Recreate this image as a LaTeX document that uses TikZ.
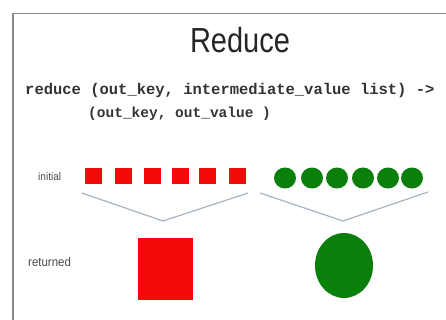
\documentclass[tikz,border=0pt]{standalone}
\usepackage{fontspec}
\setmainfont{Liberation Sans}
\newfontfamily\codefont{Liberation Mono}
\definecolor{redfill}{HTML}{F50A0A}
\definecolor{greenfill}{HTML}{0A7F0A}
\definecolor{framegray}{HTML}{8A8A8A}
\definecolor{vline}{HTML}{A8B4C0}
\tikzset{
  frame/.style={draw=framegray, line width=1.6pt},
  smallsq/.style={fill=redfill, draw=none, minimum width=17pt, minimum height=16pt, inner sep=0pt},
  smallci/.style={fill=greenfill, draw=none, ellipse, minimum width=22pt, minimum height=21pt, inner sep=0pt},
  vstroke/.style={draw=vline, line width=1.2pt},
  codetext/.style={font=\codefont\bfseries\fontsize{15.5}{17}\selectfont, text=black!80, inner sep=0pt, anchor=west},
  lbl/.style={font=\fontsize{11}{12}\selectfont, text=black!70, inner sep=0pt, anchor=west, xscale=0.92}
}
\usetikzlibrary{shapes.geometric}
\begin{document}
\begin{tikzpicture}[x=1pt,y=-1pt]
\useasboundingbox (0,0) rectangle (446,320);
\fill[white] (0,0) rectangle (446,320);
\draw[frame] (13,320) -- (13,13.5) -- (446,13.5);
\node[font=\fontsize{29}{32}\selectfont, yscale=1.2, inner sep=0pt, text=black!85] (title) at (240,40) {Reduce};
\node[codetext] (code1) at (25,90) {reduce (out\_key, intermediate\_value list) ->};
\node[codetext, font=\codefont\bfseries\fontsize{14.5}{16}\selectfont] (code2) at (88,114) {(out\_key, out\_value )};
\node[lbl] (initial) at (38,177) {initial};
\node[lbl, font=\fontsize{12.5}{14}\selectfont] (returned) at (28,262) {returned};
\foreach \i/\x in {1/93,2/123,3/152,4/180,5/207,6/237}
  \node[smallsq] (r\i) at (\x,176) {};
\foreach \i/\x in {1/285,2/312,3/337,4/363,5/388,6/412}
  \node[smallci] (g\i) at (\x,178) {};
\coordinate (ra) at (82,193);
\coordinate (rb) at (163,221);
\coordinate (rc) at (248,193);
\coordinate (ga) at (260,193);
\coordinate (gb) at (343,221);
\coordinate (gc) at (428,192);
\draw[vstroke] (ra) -- (rb) -- (rc);
\draw[vstroke] (ga) -- (gb) -- (gc);
\node[fill=redfill, minimum width=55pt, minimum height=62pt, inner sep=0pt] (bigsq) at (165.5,269) {};
\node[fill=greenfill, ellipse, minimum width=58pt, minimum height=65pt, inner sep=0pt] (bigci) at (344,265.5) {};
\end{tikzpicture}
\end{document}
